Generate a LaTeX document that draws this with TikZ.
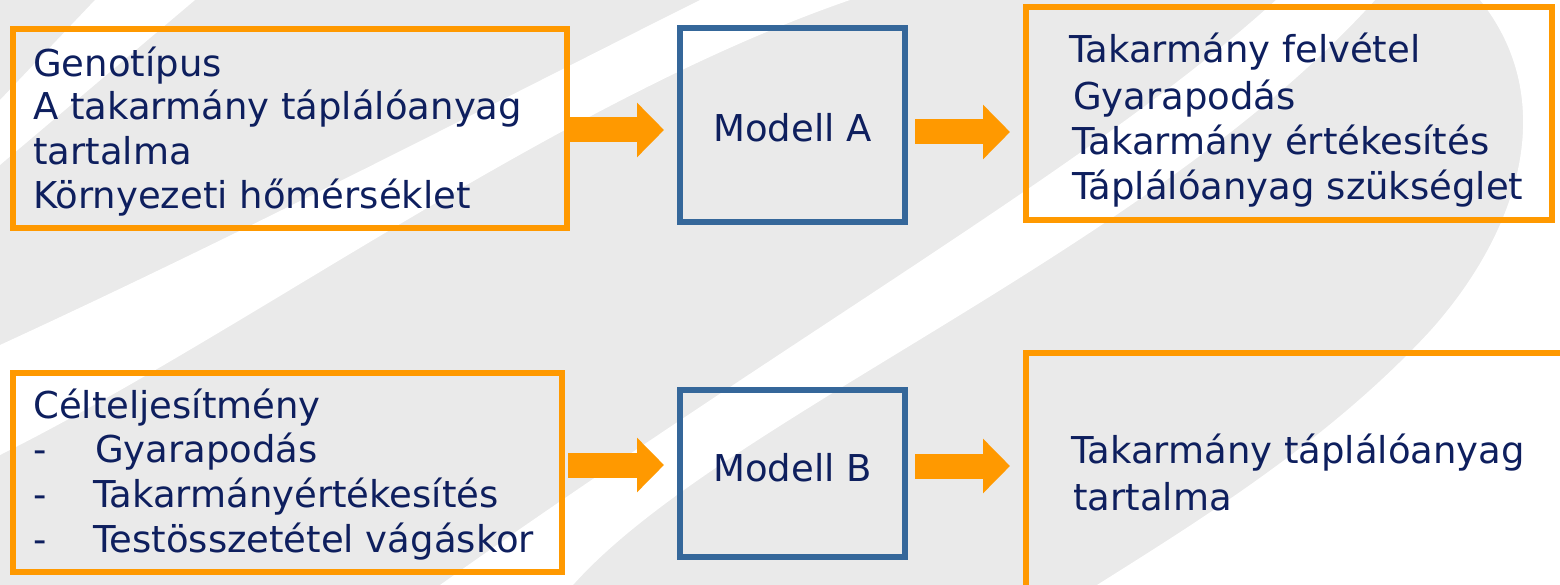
\documentclass[tikz,border=0pt]{standalone}
\usepackage{fontspec}
\setmainfont{DejaVu Sans}
\usetikzlibrary{arrows.meta}

\definecolor{bggrey}{HTML}{EAEAEA}
\definecolor{boxorange}{HTML}{FF9900}
\definecolor{boxblue}{HTML}{35679A}
\definecolor{ink}{HTML}{0E1F5E}

\begin{document}
\begin{tikzpicture}[x=1pt,y=-1pt,
  inbox/.style={draw=boxorange, line width=6pt, inner sep=0pt},
  modelbox/.style={draw=boxblue, line width=6pt, inner sep=0pt, minimum width=225pt},
  txt/.style={anchor=base west, inner sep=0pt, text=ink, font=\fontsize{37}{44}\selectfont},
  mtxt/.style={anchor=base, inner sep=0pt, text=ink, font=\fontsize{37}{44}\selectfont},
  fatarrow/.style={draw=boxorange, line width=25pt, -{Triangle[length=27pt,width=53pt]}},
  band/.style={fill=white, draw=none}]

\useasboundingbox (0,0) rectangle (1560,585);
\clip (0,0) rectangle (1560,585);

% watermark background
\fill[bggrey] (0,0) rectangle (1560,585);
\fill[band] (95,0) -- (195,0) -- (0,165) -- (0,100) -- cycle;
\fill[band] (700,0) -- (850,0) .. controls (560,100) and (250,330) .. (0,455)
  -- (0,345) .. controls (250,230) and (500,100) .. (700,0) -- cycle;
\fill[band] (1276,0) .. controls (1100,160) and (800,330) .. (440,585)
  -- (573,585) .. controls (720,420) and (1150,250) .. (1375,0) -- cycle;
\fill[band] (1480,0) .. controls (1560,100) and (1520,230) .. (1431,330)
  .. controls (1330,440) and (1200,520) .. (1097,585) -- (1560,585) -- (1560,0) -- cycle;

% boxes
\node[inbox, minimum width=554pt, minimum height=199pt] (inA) at (290,128.5) {};
\node[modelbox, minimum height=194pt] (modA) at (792.5,125) {};
\node[inbox, minimum width=526pt, minimum height=213pt] (outA) at (1289,113.5) {};
\node[inbox, minimum width=549pt, minimum height=199pt] (inB) at (287.5,472.5) {};
\node[modelbox, minimum height=167pt] (modB) at (792.5,473.5) {};
\node[inbox, minimum width=600pt, minimum height=300pt] (outB) at (1326,503) {};

% box texts
\node[txt] (inA1) at (33,77) {Genotípus};
\node[txt] (inA2) at (33,120) {A takarmány táplálóanyag};
\node[txt] (inA3) at (33,165) {tartalma};
\node[txt] (inA4) at (33,209) {Környezeti hőmérséklet};

\node[mtxt] (modAt) at (792.5,142) {Modell A};
\node[mtxt] (modBt) at (792.5,481) {Modell B};

\node[txt] (outA1) at (1069,63) {Takarmány felvétel};
\node[txt] (outA2) at (1073,110) {Gyarapodás};
\node[txt] (outA3) at (1072,155) {Takarmány értékesítés};
\node[txt] (outA4) at (1072,200) {Táplálóanyag szükséglet};

\node[txt] (inB1) at (33,418) {Célteljesítmény};
\node[txt] (inB2d) at (33,462) {-};
\node[txt] (inB2) at (95,462) {Gyarapodás};
\node[txt] (inB3d) at (33,507) {-};
\node[txt] (inB3) at (93,507) {Takarmányértékesítés};
\node[txt] (inB4d) at (33,552) {-};
\node[txt] (inB4) at (93,552) {Testösszetétel vágáskor};

\node[txt] (outB1) at (1071,463) {Takarmány táplálóanyag};
\node[txt] (outB2) at (1073,510) {tartalma};

% connectors
\coordinate (rowA) at (0,130);
\coordinate (rowB) at (0,132);
\coordinate (rowC) at (0,465);
\coordinate (rowD) at (0,466);
\draw[fatarrow, shorten >=13pt] (inA.east |- rowA) -- (modA.west |- rowA);
\draw[fatarrow, shorten <=7pt, shorten >=13pt] (modA.east |- rowB) -- (outA.west |- rowB);
\draw[fatarrow, shorten <=3pt, shorten >=13pt] (inB.east |- rowC) -- (modB.west |- rowC);
\draw[fatarrow, shorten <=7pt, shorten >=13pt] (modB.east |- rowD) -- (outB.west |- rowD);
\end{tikzpicture}
\end{document}
